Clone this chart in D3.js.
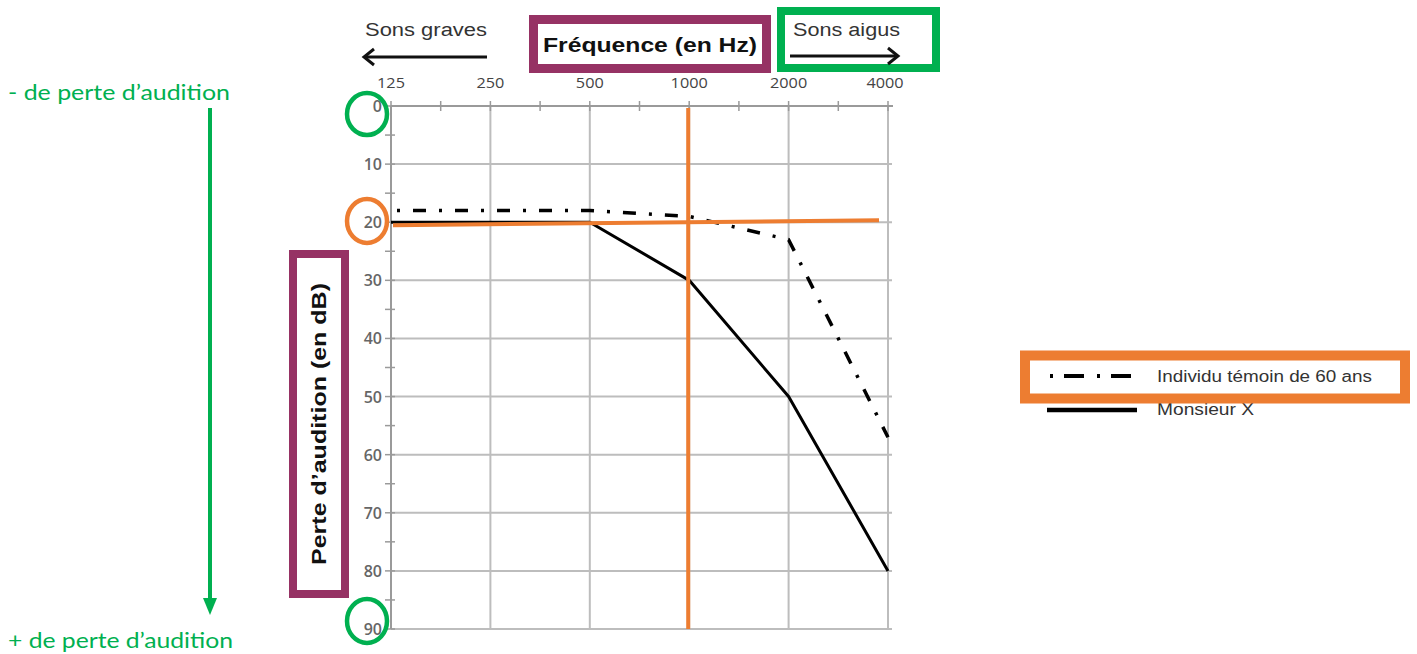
<!DOCTYPE html>
<html><head><meta charset="utf-8">
<script src="https://cdn.jsdelivr.net/npm/d3@7"></script>
<style>body{margin:0;background:#fff}svg{display:block}</style>
</head><body>
<script>
// ---- data ----
const frequencies = [125, 250, 500, 1000, 2000, 4000];
const freqLabels = ["125", "250", "500", "1000", "2000", "4000"];
const dbTicks = [0, 10, 20, 30, 40, 50, 60, 70, 80, 90];
const temoinValues = [18, 18, 18, 19, 23, 57];
const monsieurXValues = [20, 20, 20, 30, 50, 80];
const seriesNames = ["Individu témoin de 60 ans", "Monsieur X"];
const refFreq = 1000;
const refDb = 20;

const W = 1417, H = 654;
const svg = d3.select("body").append("svg").attr("width", W).attr("height", H);

const x = d3.scaleLog().base(2).domain([125, 4000]).range([391, 888]);
const y = d3.scaleLinear().domain([0, 90]).range([106, 629]);

const gridColor = "#bdbdbd";
const g = svg.append("g");

// gridlines
g.selectAll(".hg").data(dbTicks.slice(1)).join("line")
  .attr("x1", x(125)).attr("x2", x(4000) + 4)
  .attr("y1", d => y(d)).attr("y2", d => y(d))
  .attr("stroke", gridColor).attr("stroke-width", 2);
g.selectAll(".vg").data(frequencies.slice(1)).join("line")
  .attr("x1", d => x(d)).attr("x2", d => x(d))
  .attr("y1", y(0)).attr("y2", y(90))
  .attr("stroke", gridColor).attr("stroke-width", 2);

// top axis
const minorFreqs = frequencies.slice(0, -1).map(f => f * Math.SQRT2);
const topAxis = d3.axisTop(x).tickValues(frequencies.concat(minorFreqs))
  .tickSize(0).tickFormat("");
const ta = g.append("g").attr("transform", `translate(0,${y(0)})`).call(topAxis);
ta.select(".domain").remove();
g.append("line").attr("x1", x(125)).attr("x2", x(4000) + 5).attr("y1", y(0)).attr("y2", y(0))
  .attr("stroke", "#9a9a9a").attr("stroke-width", 2);
g.selectAll(".tt").data(frequencies.concat(minorFreqs)).join("line")
  .attr("x1", d => x(d)).attr("x2", d => x(d)).attr("y1", y(0) - 5).attr("y2", y(0) + 5)
  .attr("stroke", "#9a9a9a").attr("stroke-width", 1.5);
g.selectAll(".tl").data(frequencies).join("text")
  .attr("x", d => x(d) - (d === 4000 ? 3 : 0)).attr("y", 88)
  .attr("text-anchor", "middle")
  .attr("font-family", "Open Sans, sans-serif").attr("font-size", 14)
  .attr("fill", "#444")
  .attr("textLength", (d, i) => freqLabels[i].length * 9.3).attr("lengthAdjust", "spacingAndGlyphs")
  .text((d, i) => freqLabels[i]);

// left axis
g.append("line").attr("x1", x(125)).attr("x2", x(125)).attr("y1", y(0)).attr("y2", y(90))
  .attr("stroke", "#9a9a9a").attr("stroke-width", 2);
const minorDb = dbTicks.slice(0, -1).map(d => d + 5);
g.selectAll(".lt").data(dbTicks.concat(minorDb)).join("line")
  .attr("x1", x(125) - 6).attr("x2", x(125) + 4).attr("y1", d => y(d)).attr("y2", d => y(d))
  .attr("stroke", "#9a9a9a").attr("stroke-width", 1.5);
g.selectAll(".ll").data(dbTicks).join("text")
  .attr("x", 382).attr("y", d => y(d) + 6)
  .attr("text-anchor", "end")
  .attr("font-family", "Open Sans, sans-serif").attr("font-size", 16).attr("font-weight", 600)
  .attr("fill", "#666").text(d => d);

// series
const line = d3.line().x(d => x(d[0])).y(d => y(d[1]));
g.append("path").datum(frequencies.map((f, i) => [f, monsieurXValues[i]]))
  .attr("d", line).attr("fill", "none").attr("stroke", "#000").attr("stroke-width", 3)
  .attr("stroke-linejoin", "round");
g.append("path").datum(frequencies.map((f, i) => [f, temoinValues[i]]))
  .attr("d", line).attr("fill", "none").attr("stroke", "#000").attr("stroke-width", 3.5)
  .attr("stroke-dasharray", "13,13,3,13").attr("stroke-dashoffset", 20);

// orange reference lines
const orange = "#ed7d31";
g.append("line").attr("x1", x(125) + 2).attr("x2", 879).attr("y1", y(refDb) + 3).attr("y2", y(refDb) - 2)
  .attr("stroke", orange).attr("stroke-width", 4);
g.append("line").attr("x1", x(refFreq) - 1).attr("x2", x(refFreq) - 1).attr("y1", y(0) + 2).attr("y2", y(90))
  .attr("stroke", orange).attr("stroke-width", 4);

// circles around y ticks
const green = "#00b050";
svg.append("ellipse").attr("cx", 367).attr("cy", 114).attr("rx", 20).attr("ry", 21)
  .attr("fill", "none").attr("stroke", green).attr("stroke-width", 4.5);
svg.append("ellipse").attr("cx", 367).attr("cy", 621).attr("rx", 20).attr("ry", 22)
  .attr("fill", "none").attr("stroke", green).attr("stroke-width", 4.5);
svg.append("ellipse").attr("cx", 367).attr("cy", 221).attr("rx", 20).attr("ry", 22)
  .attr("fill", "none").attr("stroke", orange).attr("stroke-width", 4.5);

// titles
const purple = "#963264";
svg.append("rect").attr("x", 533.5).attr("y", 19.5).attr("width", 233).attr("height", 49)
  .attr("fill", "#fff").attr("stroke", purple).attr("stroke-width", 9);
svg.append("text").attr("x", 650).attr("y", 52).attr("text-anchor", "middle")
  .attr("font-family", "Liberation Sans, Arial, sans-serif").attr("font-weight", "bold")
  .attr("font-size", 21).attr("fill", "#111")
  .attr("textLength", 214).attr("lengthAdjust", "spacingAndGlyphs")
  .text("Fréquence (en Hz)");

svg.append("rect").attr("x", 781).attr("y", 11).attr("width", 155).attr("height", 57)
  .attr("fill", "#fff").attr("stroke", green).attr("stroke-width", 8);
svg.append("text").attr("x", 793).attr("y", 36)
  .attr("font-family", "Liberation Sans, Arial, sans-serif").attr("font-size", 18).attr("fill", "#333")
  .attr("textLength", 107).attr("lengthAdjust", "spacingAndGlyphs").text("Sons aigus");
svg.append("text").attr("x", 365).attr("y", 36)
  .attr("font-family", "Liberation Sans, Arial, sans-serif").attr("font-size", 18).attr("fill", "#333")
  .attr("textLength", 122).attr("lengthAdjust", "spacingAndGlyphs").text("Sons graves");

// black arrows
svg.append("line").attr("x1", 364).attr("x2", 487).attr("y1", 57).attr("y2", 57)
  .attr("stroke", "#111").attr("stroke-width", 3);
svg.append("path").attr("d", "M374,49 L364,57 L374,65").attr("fill", "none")
  .attr("stroke", "#111").attr("stroke-width", 3).attr("stroke-linejoin", "miter");
svg.append("line").attr("x1", 790).attr("x2", 898).attr("y1", 56).attr("y2", 56)
  .attr("stroke", "#111").attr("stroke-width", 3);
svg.append("path").attr("d", "M888,48 L898,56 L888,64").attr("fill", "none")
  .attr("stroke", "#111").attr("stroke-width", 3);

// y title
svg.append("rect").attr("x", 293).attr("y", 254).attr("width", 52).attr("height", 340)
  .attr("fill", "#fff").attr("stroke", purple).attr("stroke-width", 8);
svg.append("text").attr("transform", "translate(326,424) rotate(-90)").attr("text-anchor", "middle")
  .attr("font-family", "Liberation Sans, Arial, sans-serif").attr("font-weight", "bold")
  .attr("font-size", 20).attr("fill", "#111")
  .attr("textLength", 282).attr("lengthAdjust", "spacingAndGlyphs")
  .text("Perte d’audition (en dB)");

// green annotations
svg.append("text").attr("x", 8).attr("y", 100)
  .attr("font-family", "Lato, Open Sans, sans-serif").attr("font-size", 21).attr("fill", green)
  .attr("textLength", 222).attr("lengthAdjust", "spacingAndGlyphs").text("- de perte d’audition");
svg.append("text").attr("x", 8).attr("y", 648)
  .attr("font-family", "Lato, Open Sans, sans-serif").attr("font-size", 21).attr("fill", green)
  .attr("textLength", 225).attr("lengthAdjust", "spacingAndGlyphs").text("+ de perte d’audition");
svg.append("line").attr("x1", 210).attr("x2", 210).attr("y1", 108).attr("y2", 600)
  .attr("stroke", green).attr("stroke-width", 4);
svg.append("path").attr("d", "M203,598 L217,598 L210,615 Z").attr("fill", green);

// legend
const legend = svg.append("g");
legend.append("line").attr("x1", 1050).attr("x2", 1136).attr("y1", 376).attr("y2", 376)
  .attr("stroke", "#000").attr("stroke-width", 4).attr("stroke-dasharray", "3,11,20,13");
legend.append("line").attr("x1", 1047).attr("x2", 1137).attr("y1", 410).attr("y2", 410)
  .attr("stroke", "#000").attr("stroke-width", 4.5);
legend.selectAll("text").data(seriesNames).join("text")
  .attr("x", 1157).attr("y", (d, i) => i === 0 ? 382 : 415)
  .attr("font-family", "Liberation Sans, Arial, sans-serif").attr("font-size", 16).attr("fill", "#333")
  .attr("textLength", (d, i) => i === 0 ? 215 : 97).attr("lengthAdjust", "spacingAndGlyphs")
  .text(d => d);
svg.append("rect").attr("x", 1025).attr("y", 355.5).attr("width", 380).attr("height", 43)
  .attr("fill", "none").attr("stroke", orange).attr("stroke-width", 10);
</script>
</body></html>
